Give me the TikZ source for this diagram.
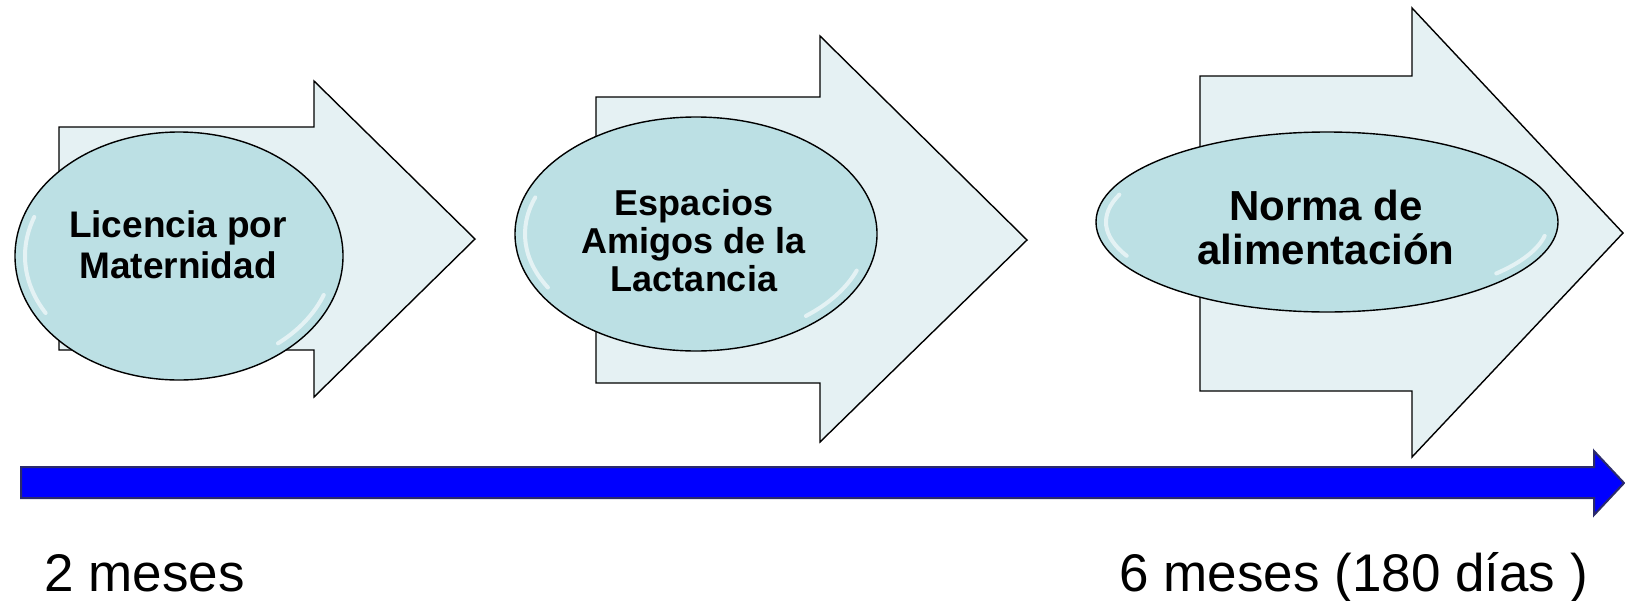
\documentclass[tikz,border=0pt]{standalone}
\usepackage{fontspec}
\setmainfont{Liberation Sans}
\usetikzlibrary{shapes.geometric}
\definecolor{arrowfill}{HTML}{E5F1F3}
\definecolor{ovalfill}{HTML}{BCE0E4}
\definecolor{navy}{HTML}{2B2B6B}
\tikzset{
  bigarrow/.style={fill=arrowfill, draw=black, line width=1.4pt, line join=miter},
  oval/.style={ellipse, fill=ovalfill, draw=black, line width=1.4pt, inner sep=0pt},
  gloss/.style={white, opacity=0.6, line width=4pt, line cap=round},
  ovaltext/.style={align=center},
  timeline/.style={fill=blue, draw=navy, line width=2pt, line join=miter},
  timetext/.style={anchor=base west, font=\fontsize{53}{60}\selectfont}
}
\begin{document}
\begin{tikzpicture}[x=1pt,y=-1pt]
\useasboundingbox (0,0) rectangle (1625,600);
% arrow 1
\draw[bigarrow] (59,127) -- (314,127) -- (314,81) -- (475,239) -- (314,397) -- (314,350) -- (59,350) -- cycle;
% arrow 2
\draw[bigarrow] (596,97) -- (820,97) -- (820,36) -- (1027,240) -- (820,442) -- (820,383) -- (596,383) -- cycle;
% arrow 3
\draw[bigarrow] (1200,76) -- (1412,76) -- (1412,8) -- (1623,233) -- (1412,457) -- (1412,391) -- (1200,391) -- cycle;
% ovals
\node[oval, minimum width=328pt, minimum height=248pt] (o1) at (179,256) {};
\node[oval, minimum width=362pt, minimum height=234pt] (o2) at (696,234) {};
\node[oval, minimum width=462pt, minimum height=180pt] (o3) at (1327,222) {};
% glossy highlights: left side and lower right
\draw[gloss] (o1.center) ++(200:154pt and -114pt) arc[start angle=200, end angle=150, x radius=154pt, y radius=-114pt];
\draw[gloss] (o1.center) ++(20:154pt and -114pt) arc[start angle=20, end angle=50, x radius=154pt, y radius=-114pt];
\draw[gloss] (o2.center) ++(200:171pt and -107pt) arc[start angle=200, end angle=150, x radius=171pt, y radius=-107pt];
\draw[gloss] (o2.center) ++(20:171pt and -107pt) arc[start angle=20, end angle=50, x radius=171pt, y radius=-107pt];
\draw[gloss] (o3.center) ++(200:221pt and -80pt) arc[start angle=200, end angle=155, x radius=221pt, y radius=-80pt];
\draw[gloss] (o3.center) ++(10:221pt and -80pt) arc[start angle=10, end angle=40, x radius=221pt, y radius=-80pt];
\node[ovaltext, font=\bfseries\fontsize{37}{41}\selectfont] (t1) at (178,245) {Licencia por\\Maternidad};
\node[ovaltext, font=\bfseries\fontsize{36}{38}\selectfont] (t2) at (694,241) {Espacios\\Amigos de la\\Lactancia};
\node[ovaltext, font=\bfseries\fontsize{42}{44}\selectfont] (t3) at (1326,227) {Norma de\\alimentación};
% timeline
\draw[timeline] (21,467) -- (1594,467) -- (1594,451) -- (1624,483) -- (1594,515) -- (1594,498) -- (21,498) -- cycle;
\node[timetext] (m2) at (41,591) {2 meses};
\node[timetext] (m6) at (1116,591) {6 meses (180 días )};
\end{tikzpicture}
\end{document}
